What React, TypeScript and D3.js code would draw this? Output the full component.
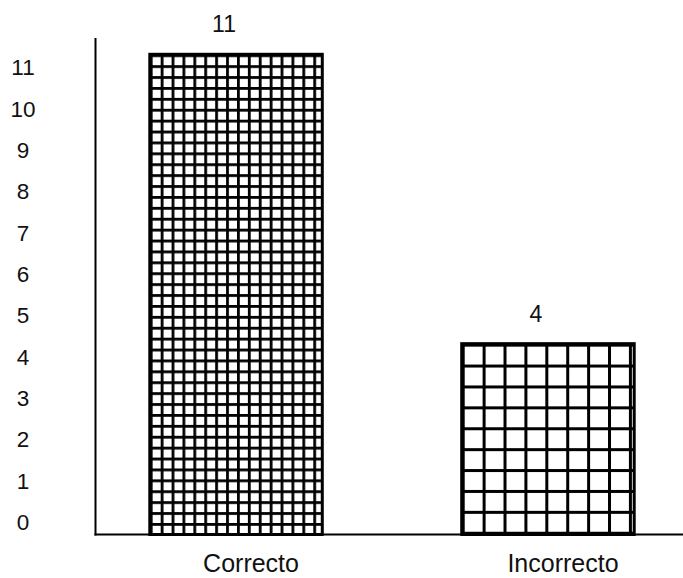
import React from "react";
import * as d3 from "d3";

const categories = ["Correcto", "Incorrecto"];
const values = [11, 4];
const yTicks = [0, 1, 2, 3, 4, 5, 6, 7, 8, 9, 10, 11];
const cellSizes = [10.9, 20.9];

const W = 683;
const H = 578;
const FONT = "'Liberation Sans', Arial, Helvetica, sans-serif";

export default function App() {
  const axisX = 95.5;
  const baseY = 534.5;
  const y = d3.scaleLinear().domain([0, 11]).range([509, 54.3]);
  const x = d3
    .scaleBand<string>()
    .domain(categories)
    .range([103, 681])
    .paddingInner(0.447)
    .paddingOuter(0.15);
  const bw = x.bandwidth();

  return (
    <div style={{ position: "absolute", left: 0, top: 0, background: "#fff" }}>
      <svg width={W} height={H} style={{ display: "block", background: "#fff" }}>
        <defs>
          {categories.map((c, i) => {
            const s = cellSizes[i];
            const lw = i === 0 ? 2.8 : 3;
            return (
              <pattern
                key={c}
                id={`grid${i}`}
                patternUnits="userSpaceOnUse"
                x={x(c)!}
                y={y(values[i])}
                width={s}
                height={s}
              >
                <rect width={s} height={s} fill="#fff" />
                <rect x={0} y={0} width={lw} height={s} fill="#000" />
                <rect x={0} y={0} width={s} height={lw} fill="#000" />
              </pattern>
            );
          })}
        </defs>

        {/* y tick labels */}
        {yTicks.map((t) => (
          <text
            key={t}
            x={23}
            y={y(t) + 13}
            dy="0.35em"
            textAnchor="middle"
            fontFamily={FONT}
            fontSize={22.5}
            fill="#111"
          >
            {t}
          </text>
        ))}

        {/* bars */}
        {categories.map((c, i) => (
          <g key={c}>
            <rect
              x={x(c)!}
              y={y(values[i])}
              width={bw}
              height={baseY - y(values[i])}
              fill={`url(#grid${i})`}
              stroke="#000"
              strokeWidth={3}
            />
            <text
              x={x(c)! + bw / 2 - 12}
              y={y(values[i]) - 22}
              textAnchor="middle"
              fontFamily={FONT}
              fontSize={23}
              fill="#111"
            >
              {values[i]}
            </text>
            <text
              x={x(c)! + bw / 2 + 15}
              y={572}
              textAnchor="middle"
              fontFamily={FONT}
              fontSize={25}
              fill="#111"
            >
              {c}
            </text>
          </g>
        ))}

        {/* axes */}
        <line x1={axisX} x2={axisX} y1={38} y2={baseY + 1} stroke="#000" strokeWidth={2} />
        <line x1={axisX - 1} x2={W} y1={baseY} y2={baseY} stroke="#000" strokeWidth={2} />
      </svg>
    </div>
  );
}
